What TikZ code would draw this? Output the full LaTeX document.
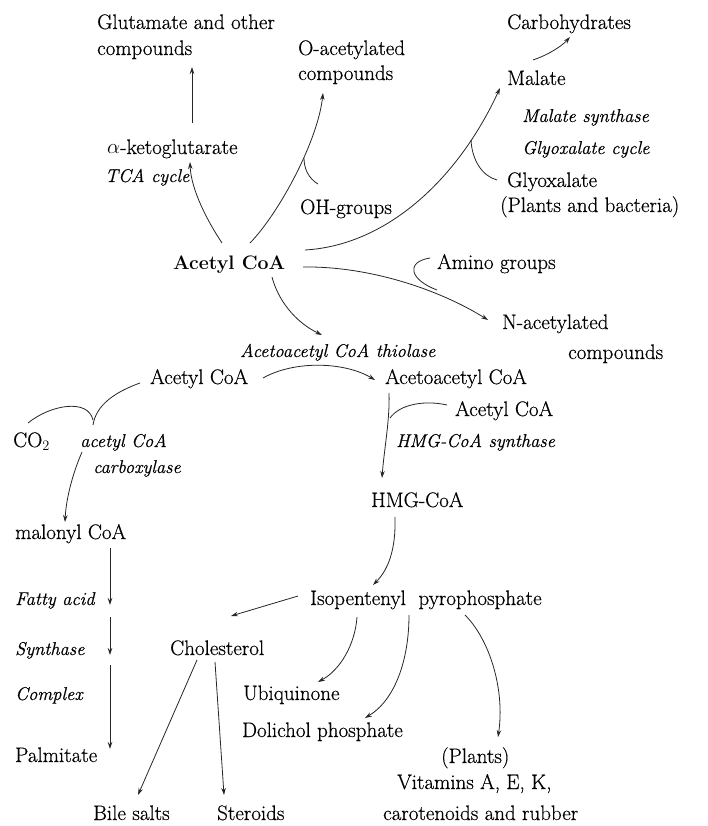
\documentclass[tikz,border=0pt]{standalone}
\usepackage{fontspec}
\newfontfamily\rmheavy{Latin Modern Roman}[FakeBold=0.5]
\usetikzlibrary{arrows.meta}
\begin{document}
\begin{tikzpicture}[x=1pt,y=-1pt,
  txt/.style={inner sep=0pt, anchor=base west, text=black, font=\rmheavy\fontsize{21}{24}\selectfont},
  itx/.style={txt, font=\rmheavy\fontsize{18.5}{22}\selectfont\itshape},
  bld/.style={txt, font=\fontsize{19.5}{24}\selectfont\bfseries},
  con/.style={draw=black!85, line width=0.8pt},
  arr/.style={con, -{Stealth[length=7pt,width=4.5pt]}}]
\useasboundingbox (0,0) rectangle (707,826);
% ---- nodes ----
\node[txt] (glu1) at (97,29) {Glutamate and other};
\node[txt] (glu2) at (97,55) {compounds};
\node[txt] (akg) at (107,154) {$\alpha$-ketoglutarate};
\node[itx] (tca) at (105,182) {TCA cycle};
\node[txt] (oac1) at (298,55) {O-acetylated};
\node[txt] (oac2) at (298,80) {compounds};
\node[txt] (oh) at (300,214) {OH-groups};
\node[txt] (carb) at (507,29) {Carbohydrates};
\node[txt] (mal) at (507,85) {Malate};
\node[itx] (ms) at (522,122) {Malate synthase};
\node[itx] (gc) at (522,154) {Glyoxalate cycle};
\node[txt] (gly1) at (507,187) {Glyoxalate};
\node[txt] (gly2) at (500,212) {(Plants and bacteria)};
\node[bld] (acoa) at (173,269) {Acetyl CoA};
\node[txt] (amino) at (437,269) {Amino groups};
\node[txt] (nac1) at (502,329) {N-acetylated};
\node[txt] (nac2) at (568,359) {compounds};
\node[itx] (thio) at (240,357) {Acetoacetyl CoA thiolase};
\node[txt] (acoa2) at (150,384) {Acetyl CoA};
\node[txt] (aacoa) at (385,384) {Acetoacetyl CoA};
\node[txt] (acoa3) at (455,416) {Acetyl CoA};
\node[itx] (hmgs) at (396,447) {HMG-CoA synthase};
\node[txt] (co2) at (13,447) {CO$_2$};
\node[itx] (acc1) at (80,447) {acetyl CoA};
\node[itx] (acc2) at (93,473) {carboxylase};
\node[txt] (hmg) at (371,507) {HMG-CoA};
\node[txt] (malo) at (15,539) {malonyl CoA};
\node[txt] (ipp) at (310,605) {Isopentenyl\ \ pyrophosphate};
\node[itx] (fa) at (15,605) {Fatty acid};
\node[itx] (syn) at (15,655) {Synthase};
\node[txt] (chol) at (170,655) {Cholesterol};
\node[itx] (cplx) at (15,700) {Complex};
\node[txt] (ubi) at (243,700) {Ubiquinone};
\node[txt] (dol) at (242,737) {Dolichol phosphate};
\node[txt] (palm) at (15,762) {Palmitate};
\node[txt] (plants) at (441,763) {(Plants)};
\node[txt] (vit) at (397,789) {Vitamins A, E, K,};
\node[txt] (caro) at (383,820) {carotenoids and rubber};
\node[txt] (bile) at (93,820) {Bile salts};
\node[txt] (ster) at (217,820) {Steroids};
% ---- connector end points ----
\coordinate (akgT) at (192,123);
\coordinate (gluB) at (192,67);
\coordinate (acoaA) at (222,243);
\coordinate (akgB) at (190,162);
\coordinate (acoaB) at (250,243);
\coordinate (oacB) at (323,93);
\coordinate (ohT) at (318,184);
\coordinate (ohJ) at (304,158);
\coordinate (malA) at (533,60);
\coordinate (carbB) at (570,37);
\coordinate (acoaC) at (305,250);
\coordinate (malB) at (500,88);
\coordinate (glyL) at (497,180);
\coordinate (glyJ) at (471,140);
\coordinate (acoaD) at (303,267);
\coordinate (nacL) at (488,320);
\coordinate (aminoL) at (430,258);
\coordinate (aminoJ) at (437,290);
\coordinate (acoaE) at (272,277);
\coordinate (thioT) at (322,335);
\coordinate (acoa2R) at (263,378);
\coordinate (aacoaL) at (375,380);
\coordinate (aacoaB) at (389,393);
\coordinate (hmgT) at (382,478);
\coordinate (acoa3L) at (447,405);
\coordinate (acoa3J) at (390,418);
\coordinate (hmgB) at (395,517);
\coordinate (ippT) at (373,585);
\coordinate (ippL) at (298,596);
\coordinate (cholT) at (231,616);
\coordinate (cholA) at (197,660);
\coordinate (bileT) at (138,795);
\coordinate (cholB) at (215,662);
\coordinate (sterT) at (224,795);
\coordinate (ippA) at (357,617);
\coordinate (ubiT) at (318,682);
\coordinate (ippB) at (409,615);
\coordinate (dolT) at (365,718);
\coordinate (ippC) at (465,615);
\coordinate (plantsT) at (498,737);
\coordinate (acoa2L) at (140,383);
\coordinate (accT) at (93,425);
\coordinate (accB) at (82,452);
\coordinate (maloT) at (65,522);
\coordinate (co2T) at (28,423);
\coordinate (co2J) at (93,420);
\coordinate (fa1) at (110,548);
\coordinate (fa2) at (110,605);
\coordinate (fa3) at (110,617);
\coordinate (fa4) at (110,655);
\coordinate (fa5) at (110,665);
\coordinate (palmT) at (110,749);
% ---- connectors ----
\draw[arr] (akgT) -- (gluB);
\draw[arr] (acoaA) .. controls (208,222) and (191,190) .. (akgB);
\draw[arr] (acoaB) .. controls (280,212) and (318,140) .. (oacB);
\draw[con] (ohT) .. controls (308,178) and (304,168) .. (ohJ);
\draw[arr] (malA) .. controls (548,55) and (562,46) .. (carbB);
\draw[arr] (acoaC) .. controls (390,245) and (460,175) .. (malB);
\draw[con] (glyL) .. controls (482,176) and (472,160) .. (glyJ);
\draw[arr] (acoaD) .. controls (370,266) and (440,290) .. (nacL);
\draw[con] (aminoL) .. controls (405,262) and (410,280) .. (aminoJ);
\draw[arr] (acoaE) .. controls (278,300) and (295,322) .. (thioT);
\draw[arr] (acoa2R) .. controls (295,360) and (345,362) .. (aacoaL);
\draw[arr] (aacoaB) .. controls (390,420) and (384,450) .. (hmgT);
\draw[con] (acoa3L) .. controls (425,400) and (400,404) .. (acoa3J);
\draw[arr] (hmgB) .. controls (396,550) and (388,570) .. (ippT);
\draw[arr] (ippL) -- (cholT);
\draw[arr] (cholA) -- (bileT);
\draw[arr] (cholB) -- (sterT);
\draw[arr] (ippA) .. controls (355,645) and (340,670) .. (ubiT);
\draw[arr] (ippB) .. controls (409,660) and (395,700) .. (dolT);
\draw[arr] (ippC) .. controls (490,640) and (505,690) .. (plantsT);
\draw[con] (acoa2L) .. controls (115,392) and (96,405) .. (accT);
\draw[arr] (accB) .. controls (72,475) and (66,500) .. (maloT);
\draw[con] (co2T) .. controls (50,405) and (88,398) .. (co2J);
\draw[arr] (fa1) -- (fa2);
\draw[arr] (fa3) -- (fa4);
\draw[arr] (fa5) -- (palmT);
\end{tikzpicture}
\end{document}
